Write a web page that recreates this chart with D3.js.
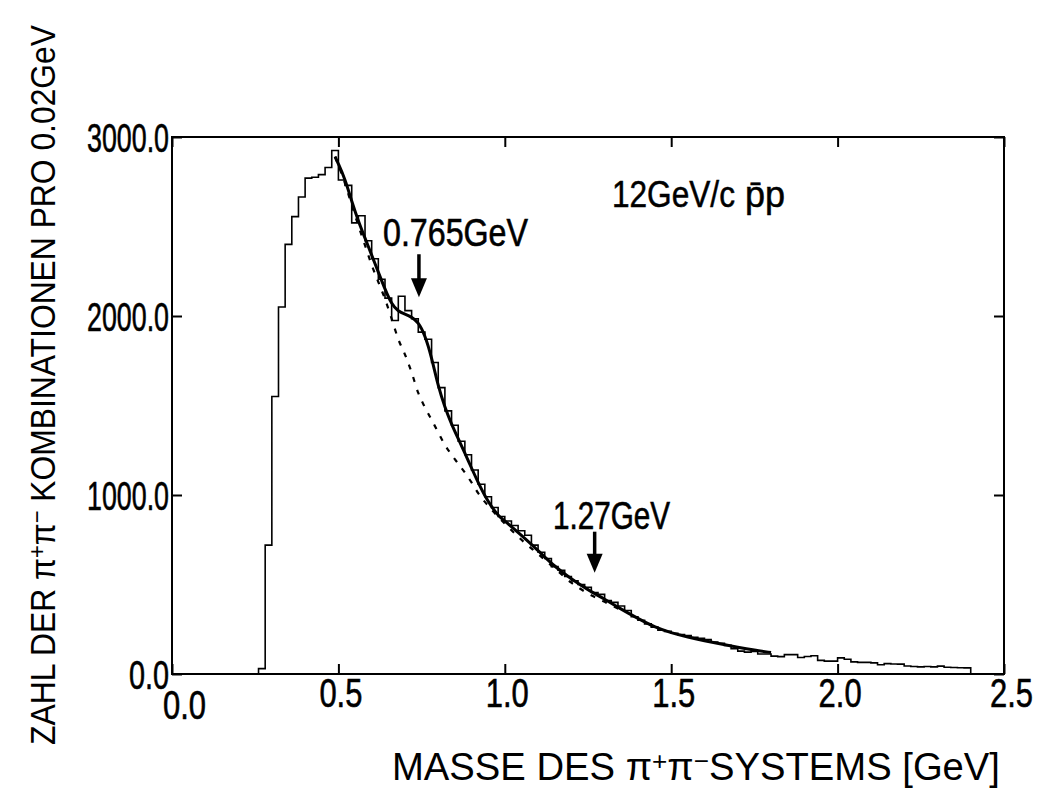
<!DOCTYPE html>
<html><head><meta charset="utf-8">
<script src="https://cdn.jsdelivr.net/npm/d3@7"></script>
<style>body{margin:0;background:#fff} text{font-family:"Liberation Sans Narrow","Liberation Sans",Arial,sans-serif;fill:#000}</style>
</head><body><svg id="c" width="1040" height="798"></svg>
<script>
// ---- data ----
const binStart = 0.26, binWidth = 0.02;
const counts = [30,720,1550,2050,2400,2555,2665,2770,2775,2790,2830,2925,
 2760,2730,2520,2560,2420,2320,2205,2100,1975,2110,
 2030,1985,1910,1870,1740,1600,1470,1390,1300,1225,
 1140,1060,990,930,880,855,830,800,775,720,
 680,645,600,580,545,520,500,485,455,445,
 410,400,380,355,320,300,280,262,245,238,
 228,220,215,205,200,192,178,172,160,142,
 128,122,126,112,112,100,97,108,108,92,
 98,102,76,72,72,90,82,68,65,65,
 62,52,58,56,55,45,42,40,42,40,
 44,38,36,35,34];
const fitMass  = [0.49,0.50,0.52,0.54,0.56,0.58,0.60,0.62,0.64,0.66,0.68,0.70,0.72,0.74,0.76,0.78,0.80,0.82,0.84,0.86,0.88,0.90,0.92,0.94,0.96,0.98,1.00,1.05,1.10,1.15,1.20,1.25,1.30,1.35,1.40,1.45,1.50,1.55,1.60,1.65,1.70,1.75,1.80];
const fitCount = [2890,2850,2765,2640,2530,2435,2340,2245,2150,2065,2025,2010,1995,1965,1895,1770,1605,1490,1395,1315,1235,1150,1070,995,935,885,855,775,690,600,530,470,418,362,310,262,230,206,186,167,149,133,120];
const bgMass  = [0.49,0.52,0.54,0.56,0.58,0.60,0.62,0.64,0.66,0.68,0.70,0.72,0.74,0.76,0.78,0.80,0.82,0.84,0.86,0.88,0.90,0.92,0.95,1.00,1.05,1.10,1.15,1.20,1.25,1.30,1.35];
const bgCount = [2890,2740,2620,2505,2395,2285,2190,2095,1985,1870,1785,1685,1570,1490,1420,1350,1280,1225,1175,1125,1070,1010,940,840,750,670,590,510,450,403,357];
const xTicks = [0,0.5,1.0,1.5,2.0,2.5];
const xTickLabels = ["0.0","0.5","1.0","1.5","2.0","2.5"];
const yTicks = [0,1000,2000,3000];
const yTickLabels = ["0.0","1000.0","2000.0","3000.0"];
const rhoLabel = "0.765GeV", f2Label = "1.27GeV";
const rhoMass = 0.742, f2Mass = 1.27;

// ---- scales ----
const svg = d3.select("#c");
const x = d3.scaleLinear().domain([0,2.5]).range([172,1004]);
const y = d3.scaleLinear().domain([0,3000]).range([674,137]);

// frame
svg.append("rect").attr("x",x(0)).attr("y",y(3000)).attr("width",x(2.5)-x(0)).attr("height",y(0)-y(3000))
  .attr("fill","none").attr("stroke","#000").attr("stroke-width",2);

// axes (inward ticks)
const axB = svg.append("g").attr("transform",`translate(0,${y(0)})`)
  .call(d3.axisBottom(x).tickValues(xTicks).tickSize(-10).tickPadding(0).tickFormat((d,i)=>xTickLabels[i]));
const axT = svg.append("g").attr("transform",`translate(0,${y(3000)})`)
  .call(d3.axisTop(x).tickValues(xTicks).tickSize(-10).tickFormat(""));
const axL = svg.append("g").attr("transform",`translate(${x(0)},0)`)
  .call(d3.axisLeft(y).tickValues(yTicks).tickSize(-10).tickPadding(3).tickFormat((d,i)=>yTickLabels[i]));
const axR = svg.append("g").attr("transform",`translate(${x(2.5)},0)`)
  .call(d3.axisRight(y).tickValues(yTicks).tickSize(-10).tickFormat(""));
[axB,axT,axL,axR].forEach(g=>{g.select(".domain").remove(); g.selectAll(".tick line").attr("stroke","#000").attr("stroke-width",2);});
axB.selectAll(".tick text").attr("font-size",40).attr("dy",0).attr("y",33)
  .attr("textLength",43).attr("lengthAdjust","spacingAndGlyphs")
  .attr("dx",(d,i)=> i===0?12:(i===xTicks.length-1?7:2))
  .attr("transform",(d,i)=> i===0?"translate(0,12)":null);
axL.selectAll(".tick text").attr("font-size",40).attr("dy","0.36em")
  .attr("textLength",(d,i)=>yTickLabels[i].length===3?40:82).attr("lengthAdjust","spacingAndGlyphs");
svg.selectAll(".tick text").style("font-family",'"Liberation Sans Narrow","Liberation Sans",Arial,sans-serif')
  .attr("fill","#000").attr("stroke","#000").attr("stroke-width",0.6);

// histogram
const histPts = [[binStart,0]];
counts.forEach((c,i)=>histPts.push([binStart+i*binWidth,c]));
histPts.push([binStart+counts.length*binWidth,counts[counts.length-1]]);
histPts.push([binStart+counts.length*binWidth,0]);
svg.append("path").attr("d",d3.line().x(d=>x(d[0])).y(d=>y(d[1])).curve(d3.curveStepAfter)(histPts))
  .attr("fill","none").attr("stroke","#000").attr("stroke-width",1.6);

// background (dashed)
svg.append("path").attr("d",d3.line().x((d,i)=>x(bgMass[i])).y(d=>y(d)).curve(d3.curveMonotoneX)(bgCount))
  .attr("fill","none").attr("stroke","#000").attr("stroke-width",2.2).attr("stroke-dasharray","5,8");
// fit (solid)
svg.append("path").attr("d",d3.line().x((d,i)=>x(fitMass[i])).y(d=>y(d)).curve(d3.curveBasis)(fitCount))
  .attr("fill","none").attr("stroke","#000").attr("stroke-width",3);

// arrows
function arrow(m,c0,c1){
  const ax=x(m), y0=y(c0), y1=y(c1);
  svg.append("line").attr("x1",ax).attr("x2",ax).attr("y1",y0).attr("y2",y1-14).attr("stroke","#000").attr("stroke-width",3.5);
  svg.append("path").attr("d",`M${ax-8},${y1-19}L${ax+8},${y1-19}L${ax},${y1}Z`).attr("fill","#000");
}
arrow(rhoMass,2345,2105);
arrow(f2Mass,795,565);

// annotation texts
svg.append("text").attr("x",x(0.634)).attr("y",y(2390)).attr("font-size",38).attr("stroke","#000").attr("stroke-width",0.6)
  .attr("textLength",145).attr("lengthAdjust","spacingAndGlyphs").text(rhoLabel);
svg.append("text").attr("x",x(1.145)).attr("y",y(810)).attr("font-size",38).attr("stroke","#000").attr("stroke-width",0.6)
  .attr("textLength",117).attr("lengthAdjust","spacingAndGlyphs").text(f2Label);
const t12 = svg.append("text").attr("x",x(1.322)).attr("y",y(2610)).attr("font-size",36).attr("stroke","#000").attr("stroke-width",0.5);
t12.append("tspan").attr("textLength",123).attr("lengthAdjust","spacingAndGlyphs").text("12GeV/c");
t12.append("tspan").attr("dx",10).text("p\u0304p");

// axis titles
const yt = svg.append("text").attr("transform","translate(55,385) rotate(-90)").attr("text-anchor","middle")
  .attr("font-size",35).attr("textLength",720).attr("lengthAdjust","spacingAndGlyphs");
yt.append("tspan").text("ZAHL DER \u03c0");
yt.append("tspan").attr("font-size",24).attr("baseline-shift","40%").text("+");
yt.append("tspan").text("\u03c0");
yt.append("tspan").attr("font-size",24).attr("baseline-shift","40%").text("\u2212");
yt.append("tspan").text(" KOMBINATIONEN PRO 0.02GeV");

const xt = svg.append("text").attr("x",392).attr("y",780).attr("font-size",38)
  .attr("textLength",608).attr("lengthAdjust","spacingAndGlyphs");
xt.append("tspan").text("MASSE DES \u03c0");
xt.append("tspan").attr("font-size",26).attr("baseline-shift","40%").text("+");
xt.append("tspan").text("\u03c0");
xt.append("tspan").attr("font-size",26).attr("baseline-shift","40%").text("\u2212");
xt.append("tspan").text("SYSTEMS [GeV]");
</script></body></html>
